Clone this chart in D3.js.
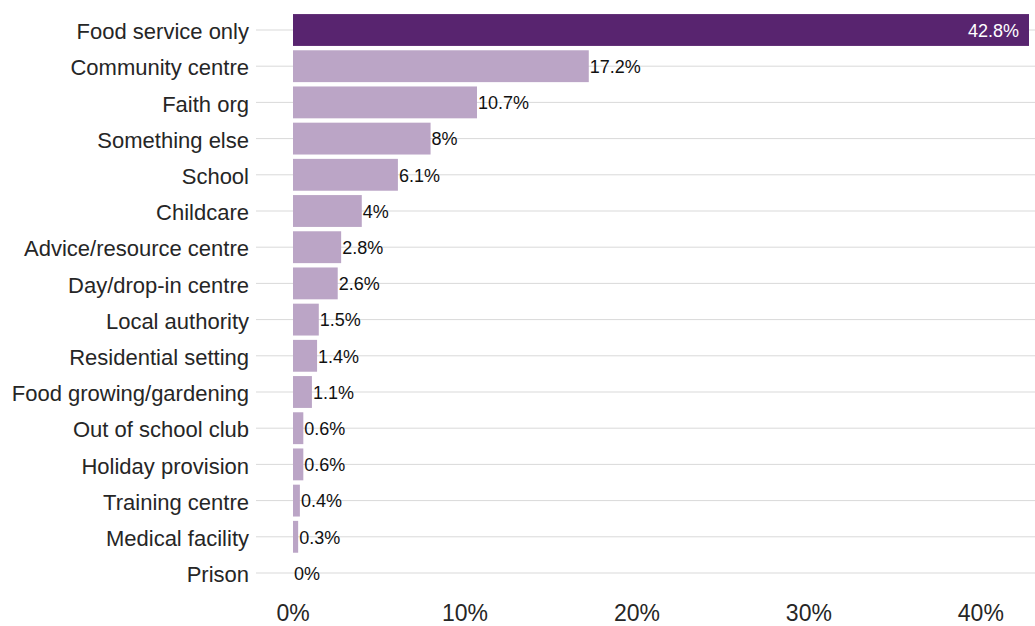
<!DOCTYPE html>
<html>
<head>
<meta charset="utf-8">
<script src="https://cdn.jsdelivr.net/npm/d3@7"></script>
<style>
  html, body { margin: 0; padding: 0; background: #fff; }
  svg { display: block; font-family: "Liberation Sans", Arial, sans-serif; }
</style>
</head>
<body>
<svg id="chart" width="1035" height="626"></svg>
<script>
// Share of providers by setting type (%)
const categories = [
  "Food service only", "Community centre", "Faith org", "Something else",
  "School", "Childcare", "Advice/resource centre", "Day/drop-in centre",
  "Local authority", "Residential setting", "Food growing/gardening",
  "Out of school club", "Holiday provision", "Training centre",
  "Medical facility", "Prison"
];
const values = [42.8, 17.2, 10.7, 8, 6.1, 4, 2.8, 2.6, 1.5, 1.4, 1.1, 0.6, 0.6, 0.4, 0.3, 0];
const valueLabels = ["42.8%", "17.2%", "10.7%", "8%", "6.1%", "4%", "2.8%", "2.6%",
  "1.5%", "1.4%", "1.1%", "0.6%", "0.6%", "0.4%", "0.3%", "0%"];
const xTicks = [0, 10, 20, 30, 40];
const xTickLabels = ["0%", "10%", "20%", "30%", "40%"];

const svg = d3.select("#chart");
const W = 1035;

const x = d3.scaleLinear().domain([0, 42.8]).range([293, 1029]);
const y = d3.scaleBand().domain(categories)
  .range([11.9, 591.1]).paddingInner(0.12).paddingOuter(0.06);

// horizontal gridlines at each category
svg.append("g").selectAll("line").data(categories).join("line")
  .attr("x1", 256).attr("x2", W)
  .attr("y1", d => y(d) + y.bandwidth() / 2)
  .attr("y2", d => y(d) + y.bandwidth() / 2)
  .attr("stroke", "#d9d9d9").attr("stroke-width", 1);

// bars
svg.append("g").selectAll("rect").data(categories).join("rect")
  .attr("x", x(0))
  .attr("y", d => y(d))
  .attr("width", (d, i) => x(values[i]) - x(0))
  .attr("height", y.bandwidth())
  .attr("fill", (d, i) => i === 0 ? "#58246f" : "#bba5c6");

// value labels: inside the leading bar, outside the rest
svg.append("g").selectAll("text").data(categories).join("text")
  .attr("x", (d, i) => i === 0 ? x(values[i]) - 10 : x(values[i]) + 1)
  .attr("y", d => y(d) + y.bandwidth() / 2)
  .attr("dy", "0.38em")
  .attr("text-anchor", (d, i) => i === 0 ? "end" : "start")
  .attr("font-size", 18)
  .attr("fill", (d, i) => i === 0 ? "#ffffff" : "#111111")
  .text((d, i) => valueLabels[i]);

// category axis labels
svg.append("g").selectAll("text").data(categories).join("text")
  .attr("x", 249)
  .attr("y", d => y(d) + y.bandwidth() / 2)
  .attr("dy", "0.42em")
  .attr("text-anchor", "end")
  .attr("font-size", 22)
  .attr("fill", "#262626")
  .text(d => d);

// x axis tick labels
svg.append("g").selectAll("text").data(xTicks).join("text")
  .attr("x", d => x(d))
  .attr("y", 621)
  .attr("text-anchor", "middle")
  .attr("font-size", 23)
  .attr("fill", "#262626")
  .text((d, i) => xTickLabels[i]);
</script>
</body>
</html>
